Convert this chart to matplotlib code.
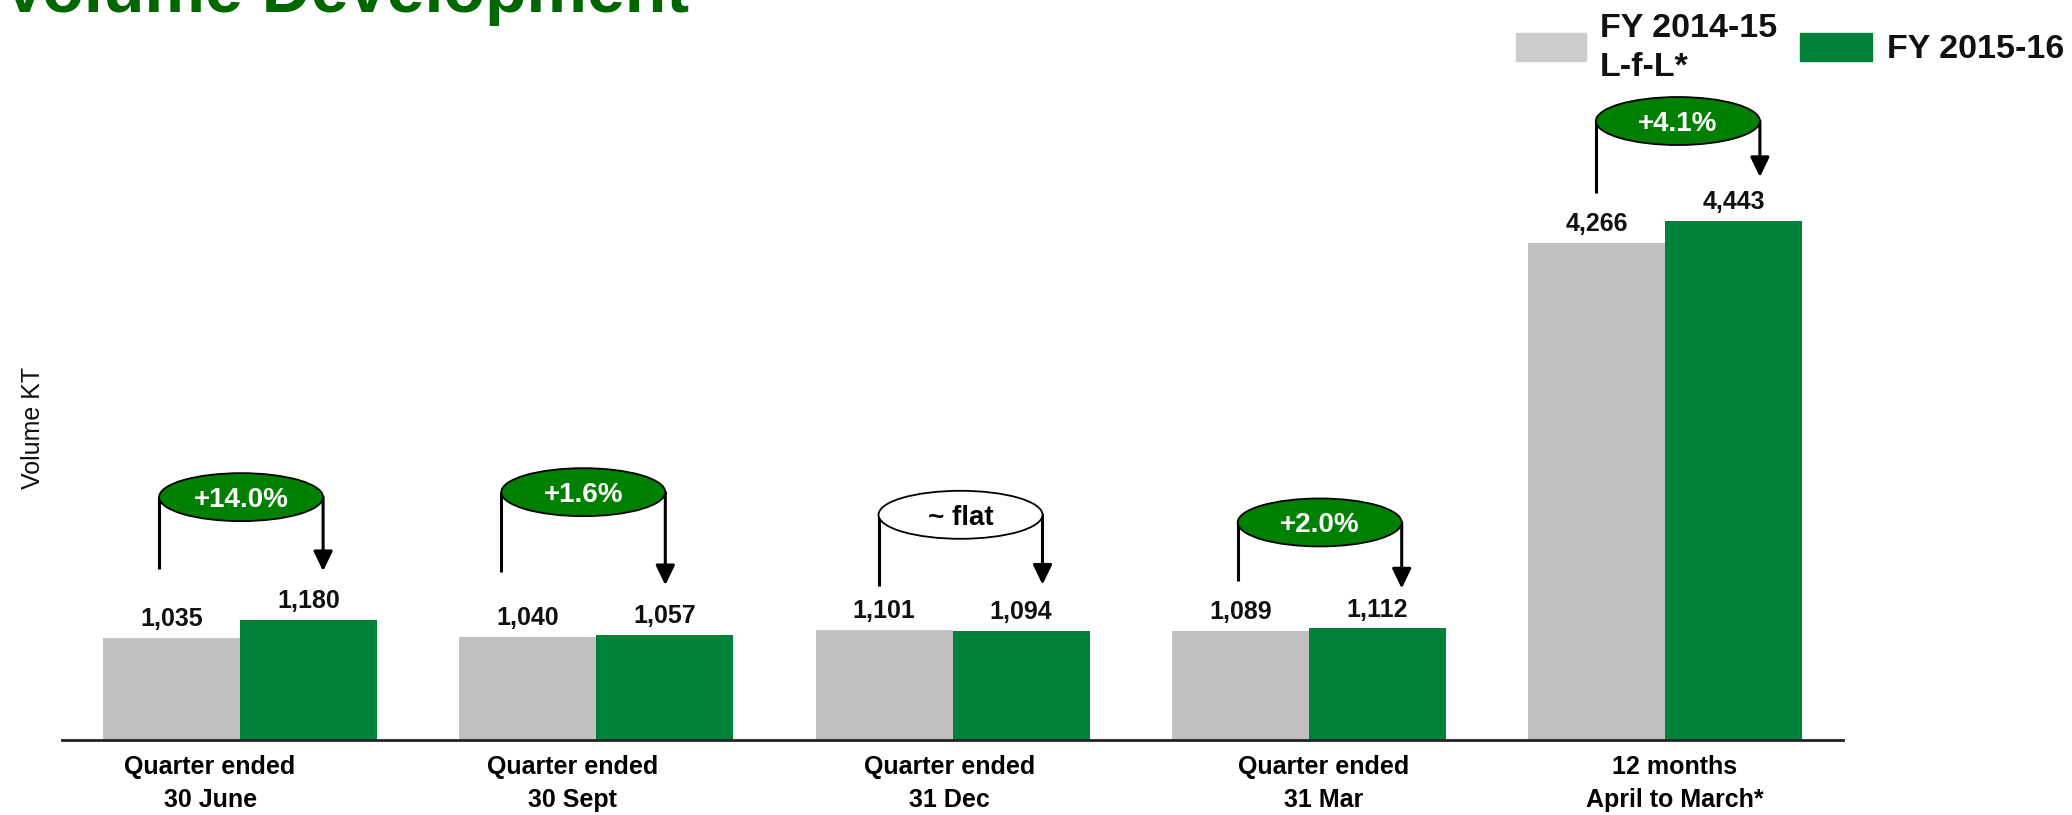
import matplotlib
matplotlib.use("Agg")
import matplotlib.pyplot as plt
import numpy as np
from matplotlib.patches import Ellipse, Rectangle
from matplotlib import font_manager

# ---- data -------------------------------------------------------------
periods = ["Quarter ended\n30 June", "Quarter ended\n30 Sept",
           "Quarter ended\n31 Dec", "Quarter ended\n31 Mar",
           "12 months\nApril to March*"]
fy1415_lfl = [1035, 1040, 1101, 1089, 4266]
fy1516 = [1180, 1057, 1094, 1112, 4443]
changes = ["+14.0%", "+1.6%", "~ flat", "+2.0%", "+4.1%"]
is_growth = [True, True, False, True, True]
series_names = ["FY 2014-15", "L-f-L*", "FY 2015-16"]

# ---- styling / layout -------------------------------------------------
GRAY = "#C0C0C0"
GRAY_KEY = "#CCCCCC"
GREEN = "#00823B"
BUBBLE_GREEN = "#008000"
TITLE_GREEN = "#006600"

W, H, DPI = 2072, 815, 100
plt.rcParams["font.family"] = ["Liberation Sans", "DejaVu Sans"]

available = {f.name for f in font_manager.fontManager.ttflist}
if "Liberation Sans Narrow" in available:
    cat_family, cat_size = ["Liberation Sans Narrow", "Liberation Sans"], 21
else:
    cat_family, cat_size = ["Liberation Sans", "DejaVu Sans"], 18


def fx(px):
    return px / W


def fy(py):
    return 1 - py / H


fig = plt.figure(figsize=(W / DPI, H / DPI), dpi=DPI)
ax_left, ax_right, ax_base, ax_top = 62, 1843, 740, 0
ax = fig.add_axes([fx(ax_left), fy(ax_base), fx(ax_right) - fx(ax_left),
                   fy(ax_top) - fy(ax_base)])

XMIN, XMAX = -0.5, 4.5
YMIN, YMAX = 200, 6250
ax.set_xlim(XMIN, XMAX)
ax.set_ylim(YMIN, YMAX)

# pixel -> data unit conversion
ux = (XMAX - XMIN) / (ax_right - ax_left)
uy = (YMAX - YMIN) / (ax_base - ax_top)

x = np.arange(len(periods))
bw = 137 * ux
ax.bar(x - bw / 2, fy1415_lfl, bw, color=GRAY, zorder=2)
ax.bar(x + bw / 2, fy1516, bw, color=GREEN, zorder=2)

for xi, a, b in zip(x, fy1415_lfl, fy1516):
    for xc, v in ((xi - bw / 2, a), (xi + bw / 2, b)):
        ax.annotate(f"{v:,}", (xc, v), xytext=(0, 8.5),
                    textcoords="offset points", ha="center", va="baseline",
                    fontsize=18, fontweight="bold", color="#111111")

# growth bubbles with connector and arrow
bubble_dx = [1, -13, 8, 11, 13]          # px offset from group centre
bubble_rise = [123, 143, 115, 106, 100]  # px above the taller bar
stem_gap = [69, 65, 44, 50, 50]          # px above the prior-year bar
tip_gap = [49, 50, 46, 40, 44]           # px above the current-year bar
bub_w, bub_h = 164, 48

for i, (a, b) in enumerate(zip(fy1415_lfl, fy1516)):
    cx = x[i] + bubble_dx[i] * ux
    cy = max(a, b) + bubble_rise[i] * uy
    xl = cx - bub_w / 2 * ux
    xr = cx + bub_w / 2 * ux
    ax.plot([xl, xl], [cy, a + stem_gap[i] * uy], color="black", lw=2.2,
            solid_capstyle="butt", zorder=3, clip_on=False)
    ax.annotate("", xy=(xr, b + tip_gap[i] * uy), xytext=(xr, cy),
                arrowprops=dict(arrowstyle="-|>,head_length=1.2,head_width=0.58",
                                mutation_scale=10, lw=2.2, color="black",
                                shrinkA=0, shrinkB=0),
                zorder=3, annotation_clip=False)
    ax.add_patch(Ellipse((cx, cy), bub_w * ux, bub_h * uy,
                         facecolor=BUBBLE_GREEN if is_growth[i] else "white",
                         edgecolor="black", lw=1.3, zorder=4, clip_on=False))
    ax.text(cx, cy, changes[i], ha="center", va="center_baseline",
            fontsize=20, fontweight="bold", zorder=5,
            color="white" if is_growth[i] else "black")

# axes decoration
for side in ("top", "left", "right"):
    ax.spines[side].set_visible(False)
ax.spines["bottom"].set_color("#222222")
ax.spines["bottom"].set_linewidth(2)
ax.set_yticks([])

# category captions sit slightly off the group centres
label_dx = [-30, -24, -3, 15, 10]  # px
ax.set_xticks(x + np.array(label_dx) * ux, periods)
ax.tick_params(axis="x", length=0, pad=11)
for lbl in ax.get_xticklabels():
    lbl.set_fontfamily(cat_family)
    lbl.set_fontsize(cat_size)
    lbl.set_fontweight("bold")
    lbl.set_linespacing(1.45)

fig.text(fx(33), fy(428), "Volume KT", rotation=90, ha="center", va="center",
         fontsize=18, color="#111111")

fig.text(fx(2), fy(12), "Volume Development", ha="left", va="baseline",
         fontsize=49, fontweight="bold", color=TITLE_GREEN)

# legend keys
fig.add_artist(Rectangle((fx(1516), fy(61)), fx(70), 28 / H,
                         transform=fig.transFigure, color=GRAY_KEY))
fig.add_artist(Rectangle((fx(1800), fy(61)), fx(72), 28 / H,
                         transform=fig.transFigure, color=GREEN))
fig.text(fx(1600), fy(37), series_names[0], ha="left", va="baseline",
         fontsize=24.5, fontweight="bold", color="#111111")
fig.text(fx(1600), fy(76), series_names[1], ha="left", va="baseline",
         fontsize=24.5, fontweight="bold", color="#111111")
fig.text(fx(1887), fy(58), series_names[2], ha="left", va="baseline",
         fontsize=24.5, fontweight="bold", color="#111111")

fig.savefig("out.png", dpi=DPI)
